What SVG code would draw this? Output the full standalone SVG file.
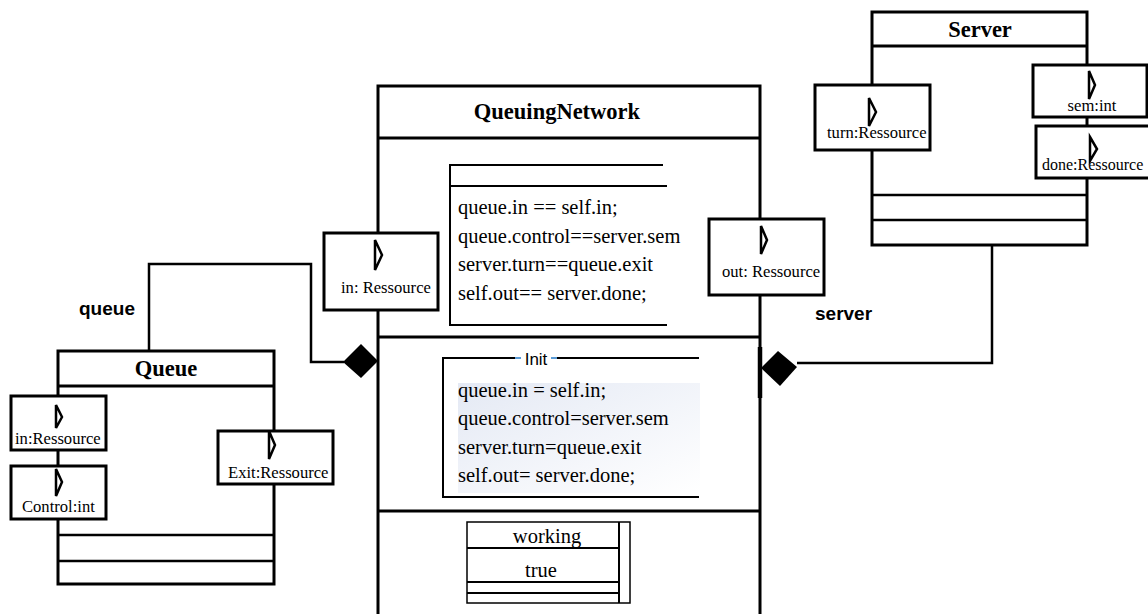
<svg xmlns="http://www.w3.org/2000/svg" width="1148" height="614" viewBox="0 0 1148 614">
<style>
.box{fill:#fff;stroke:#000;stroke-width:3}
.ln{fill:none;stroke:#000;stroke-width:2.5}
.thin{fill:none;stroke:#000;stroke-width:2}
.port{fill:#fff;stroke:#000;stroke-width:3}
.sym{fill:#fff;stroke:#000;stroke-width:2.5;stroke-linejoin:miter}
.title{font-family:"Liberation Serif","Times New Roman",serif;font-weight:bold;font-size:22.5px;text-anchor:middle}
.t{font-family:"Liberation Serif","Times New Roman",serif;font-size:20.5px}
.p{font-family:"Liberation Serif","Times New Roman",serif;font-size:16.6px}
.lab{font-family:"Liberation Sans",Arial,sans-serif;font-weight:bold;font-size:19px}
.init{font-family:"Liberation Sans",Arial,sans-serif;font-size:17px;text-anchor:middle}
</style>
<defs>
<linearGradient id="g" x1="0" y1="0" x2="1" y2="1">
<stop offset="0" stop-color="#e4e9f4"/>
<stop offset="1" stop-color="#ffffff"/>
</linearGradient>
</defs>
<rect width="1148" height="614" fill="#fff"/>

<g id="connectors">
<path class="ln" d="M149,350 V264 H311 V362 H344"/>
<path class="ln" d="M992,245 V363 H797"/>
<text class="lab" x="79" y="315">queue</text>
<text class="lab" x="815" y="320">server</text>
</g>

<g id="QueuingNetwork">
<rect class="box" x="378" y="86" width="382" height="540"/>
<line class="box" x1="378" y1="138" x2="760" y2="138"/>
<line class="box" x1="378" y1="337" x2="760" y2="337"/>
<line class="box" x1="378" y1="511" x2="760" y2="511"/>
<text class="title" x="557" y="119">QueuingNetwork</text>
<g id="constraints">
<path class="thin" d="M663,165 H450 V325 H667"/>
<line class="thin" x1="450" y1="186" x2="667" y2="186"/>
<text class="t" x="458" y="214">queue.in == self.in;</text>
<text class="t" x="458" y="243">queue.control==server.sem</text>
<text class="t" x="458" y="271">server.turn==queue.exit</text>
<text class="t" x="458" y="300">self.out== server.done;</text>
</g>
<g id="init">
<rect x="458" y="383" width="242" height="110" fill="url(#g)"/>
<path class="thin" d="M515,358 H443 V497 H699"/>
<line class="thin" x1="557" y1="358" x2="699" y2="358"/>
<line x1="515" y1="358" x2="521" y2="358" stroke="#5b9bd5" stroke-width="2"/>
<line x1="551" y1="358" x2="557" y2="358" stroke="#5b9bd5" stroke-width="2"/>
<text class="init" x="536" y="365">Init</text>
<text class="t" x="458" y="397">queue.in = self.in;</text>
<text class="t" x="458" y="425">queue.control=server.sem</text>
<text class="t" x="458" y="454">server.turn=queue.exit</text>
<text class="t" x="458" y="482">self.out= server.done;</text>
</g>
<g id="state">
<rect x="467" y="522" width="163" height="81" fill="#fff" stroke="#000" stroke-width="1.5"/>
<line x1="619" y1="522" x2="619" y2="603" stroke="#000" stroke-width="2"/>
<line class="thin" x1="467" y1="548" x2="619" y2="548"/>
<line class="thin" x1="467" y1="582" x2="619" y2="582"/>
<line class="thin" x1="467" y1="593" x2="619" y2="593"/>
<text class="t" x="547" y="543" text-anchor="middle">working</text>
<text class="t" x="541" y="577" text-anchor="middle">true</text>
</g>
<line x1="760" y1="347" x2="760" y2="398" stroke="#000" stroke-width="4.5"/>
<g id="port-in">
<rect class="port" x="324" y="233" width="114" height="77"/>
<path class="sym" d="M375,240 L382,255 L375,270 Z"/>
<text class="p" x="341" y="293">in: Ressource</text>
</g>
<g id="port-out">
<rect class="port" x="709" y="219" width="115" height="76"/>
<path class="sym" d="M761,226 L767,240 L761,254 Z"/>
<text class="p" x="722" y="277">out: Ressource</text>
</g>
</g>

<g id="Queue">
<rect class="box" x="58" y="351" width="216" height="233"/>
<line class="box" x1="58" y1="386" x2="274" y2="386"/>
<line class="ln" x1="58" y1="535" x2="274" y2="535"/>
<line class="ln" x1="58" y1="561" x2="274" y2="561"/>
<text class="title" x="166" y="376">Queue</text>
<g id="queue-in">
<rect class="port" x="11" y="396" width="95" height="54"/>
<path class="sym" d="M56,405 L62,417 L56,428 Z"/>
<text class="p" x="15" y="444">in:Ressource</text>
</g>
<g id="queue-control">
<rect class="port" x="11" y="466" width="95" height="53"/>
<path class="sym" d="M56,469 L62,482 L56,496 Z"/>
<text class="p" x="22" y="512">Control:int</text>
</g>
<g id="queue-exit">
<rect class="port" x="218" y="431" width="115" height="53"/>
<path class="sym" d="M269,431 L275,445 L269,459 Z"/>
<text class="p" x="228" y="478">Exit:Ressource</text>
</g>
</g>

<g id="Server">
<rect class="box" x="872" y="12" width="215" height="233"/>
<line class="box" x1="872" y1="46" x2="1087" y2="46"/>
<line class="ln" x1="872" y1="195" x2="1087" y2="195"/>
<line class="ln" x1="872" y1="220" x2="1087" y2="220"/>
<text class="title" x="980" y="37">Server</text>
<g id="server-turn">
<rect class="port" x="815" y="85" width="115" height="65"/>
<path class="sym" d="M869,98 L876,112 L869,126 Z"/>
<text class="p" x="827" y="138">turn:Ressource</text>
</g>
<g id="server-sem">
<rect class="port" x="1033" y="65" width="114" height="52"/>
<path class="sym" d="M1089,71 L1095,85 L1089,99 Z"/>
<text class="p" x="1092" y="111" text-anchor="middle">sem:int</text>
</g>
<g id="server-done">
<rect class="port" x="1036" y="126" width="116" height="52"/>
<text class="p" x="1042" y="170" style="font-size:16px">done:Ressource</text>
<path class="sym" d="M1090,137 L1097,149 L1090,161 Z"/>
</g>
</g>

<g id="diamonds">
<path d="M343,362 L361,344 L378,361 L361,378 Z" fill="#000"/>
<path d="M761,368 L778,351 L797,367 L780,386 Z" fill="#000"/>
</g>
</svg>
